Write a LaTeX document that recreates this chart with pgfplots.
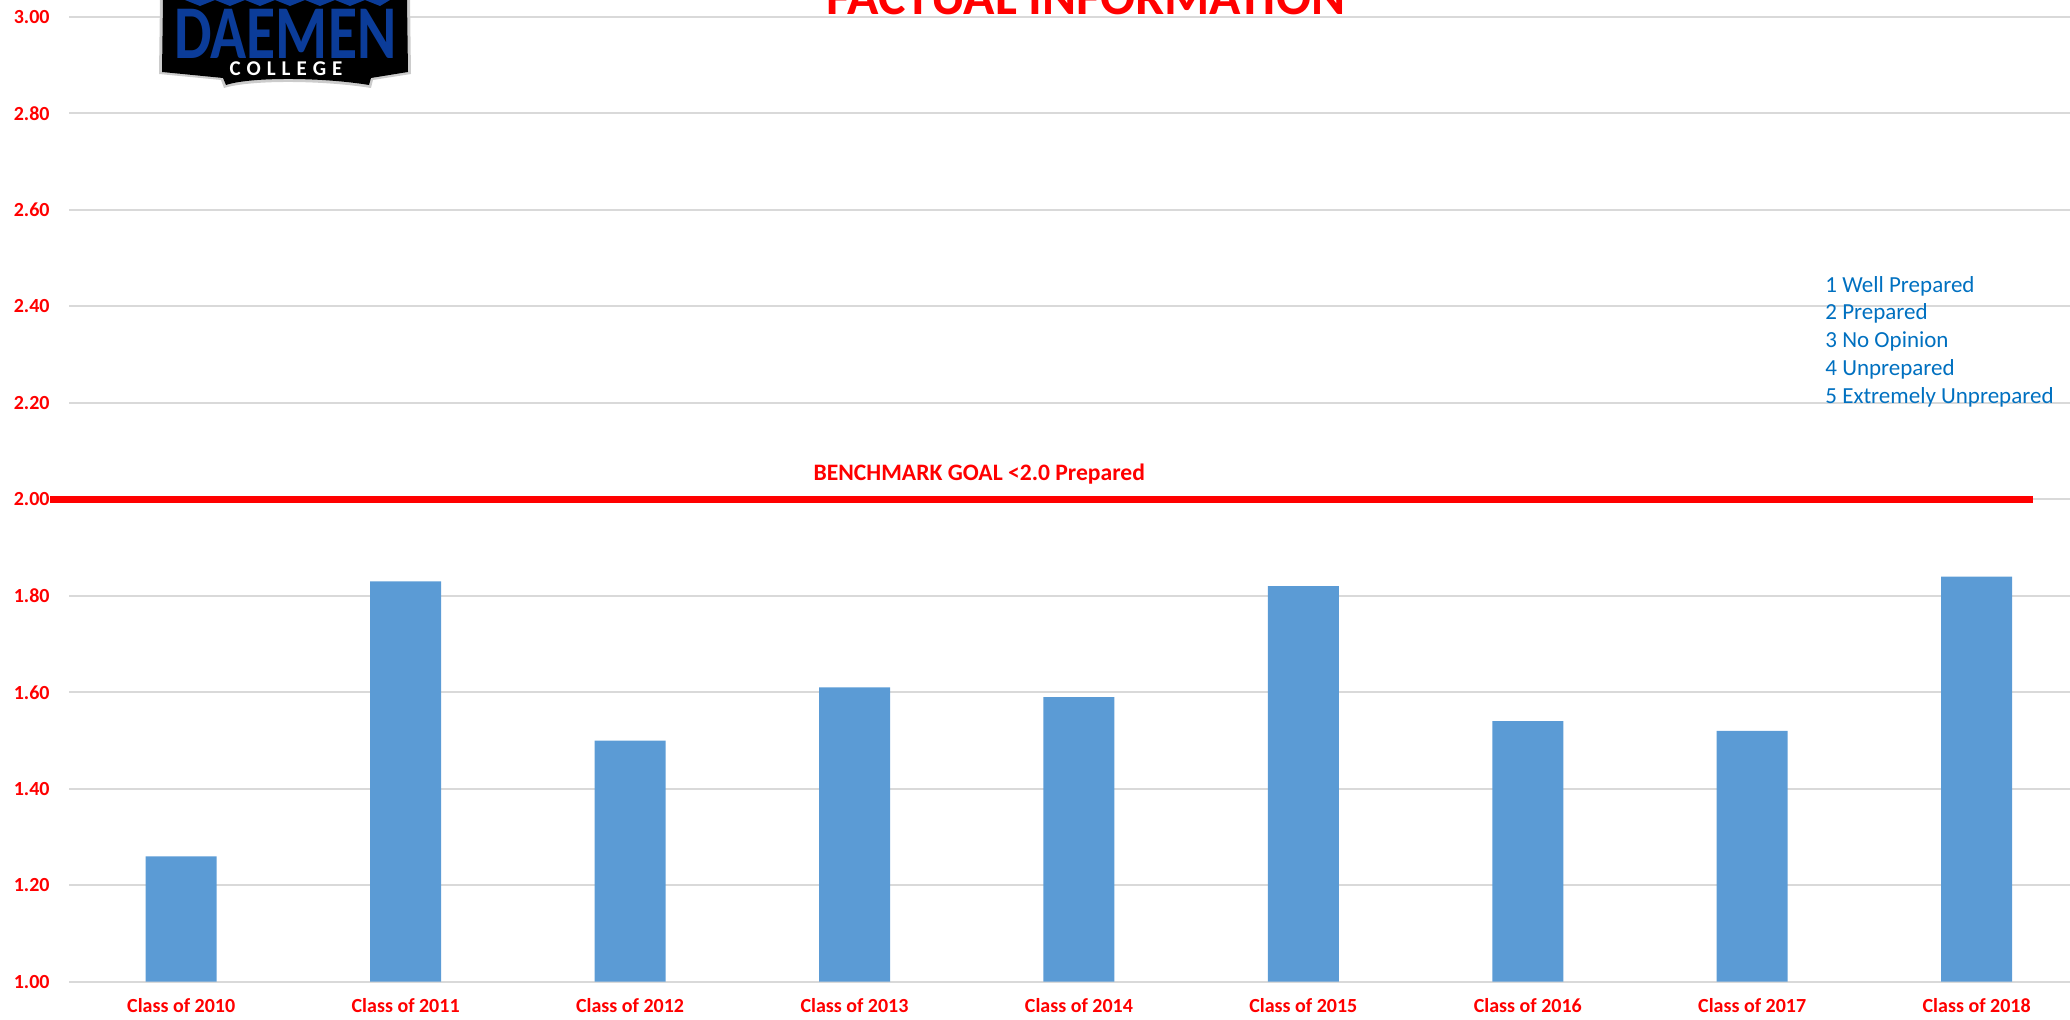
\documentclass[border=0pt]{standalone}
\usepackage{pgfplots}
\pgfplotsset{compat=1.18}
\usepackage{fontspec}
\setmainfont{Carlito}
\definecolor{xred}{HTML}{FF0000}
\definecolor{gridgray}{HTML}{D9D9D9}
\definecolor{barblue}{HTML}{5B9BD5}
\definecolor{legblue}{HTML}{0070C0}
\definecolor{logoblue}{HTML}{0B3C99}
\begin{document}
\begin{tikzpicture}
\useasboundingbox (-34.5pt,-19.15pt) rectangle (1000.5pt,490.85pt);
\clip (-34.5pt,-19.15pt) rectangle (1000.5pt,490.85pt);
\begin{axis}[at={(0,0)}, anchor=south west, scale only axis,
  width=1010pt, height=482.35pt,
  xmin=-0.5, xmax=8.5, ymin=1, ymax=3,
  axis line style={draw=none},
  ymajorgrids, grid style={gridgray, line width=1pt},
  major tick length=0pt,
  xtick={0,1,2,3,4,5,6,7,8},
  xticklabels={Class of 2010,Class of 2011,Class of 2012,Class of 2013,Class of 2014,Class of 2015,Class of 2016,Class of 2017,Class of 2018},
  ytick={1,1.2,1.4,1.6,1.8,2,2.2,2.4,2.6,2.8,3},
  yticklabels={1.00,1.20,1.40,1.60,1.80,2.00,2.20,2.40,2.60,2.80,3.00},
  /pgf/number format/assume math mode=true,
  ticklabel style={font=\fontsize{10}{12}\selectfont\bfseries, text=xred},
  yticklabel style={anchor=east, inner sep=0pt, xshift=-9.5pt},
  xticklabel style={anchor=base, inner sep=0pt, yshift=-15.5pt},
  clip=true]
\addplot[ybar, bar width=35.5pt, fill=barblue, draw=none] coordinates {(0,1.26) (1,1.83) (2,1.50) (3,1.61) (4,1.59) (5,1.82) (6,1.54) (7,1.52) (8,1.84)};
\end{axis}
\begin{axis}[at={(0,0)}, anchor=south west, scale only axis,
  width=1010pt, height=482.35pt,
  xmin=-0.5, xmax=8.5, ymin=1, ymax=3, hide axis, clip=false]
\addplot[xred, line width=3.3pt, line cap=butt] coordinates {(-0.584,2) (8.253,2)};
\node[anchor=base, text=xred, font=\fontsize{11.8}{14}\selectfont\bfseries, inner sep=0pt] at (axis cs:3.556,2.040) {BENCHMARK GOAL <2.0 Prepared};
\end{axis}
\begin{scope}[x=0.5pt, y=-0.5pt, shift={(-34.5pt,490.85pt)}]
% title
\node[anchor=base, inner sep=0pt, text=xred, font=\fontsize{25.9}{30}\selectfont\bfseries] at (1086,15) {FACTUAL INFORMATION};
% rating scale
\node[anchor=base west, inner sep=0pt, text=legblue, align=left, font=\fontsize{11.5}{13.9}\selectfont] at (1825,403.3) {1 Well Prepared\\2 Prepared\\3 No Opinion\\4 Unprepared\\5 Extremely Unprepared};
% logo
\fill[gray!40] (160,0) -- (410,0) -- (411,74) -- (373,80) -- (371,88) .. controls (320,80) and (250,80) .. (224,88) -- (221,80) -- (159,74) -- cycle;
\fill[black] (163,0) -- (407,0) -- (408,72) -- (371,78) -- (369,85) .. controls (320,77) and (250,77) .. (226,85) -- (223,78) -- (162,72) -- cycle;
\fill[logoblue] (185,0) -- (200,6) -- (215,0) -- (230,6) -- (245,0) -- (260,6) -- (275,0) -- (290,6) -- (305,0) -- (320,6) -- (335,0) -- (350,6) -- (365,0) -- (380,6) -- (390,0) -- cycle;
\node[anchor=base, inner sep=0pt, text=logoblue, xscale=0.784, font=\fontsize{38}{40}\selectfont\bfseries] at (285.5,59) {DAEMEN};
\node[anchor=base, inner sep=0pt, text=white, font=\fontsize{10.5}{12}\selectfont\bfseries] at (286,75.5) {C\hspace{3pt}O\hspace{3pt}L\hspace{3pt}L\hspace{3pt}E\hspace{3pt}G\hspace{3pt}E};
\end{scope}
\end{tikzpicture}
\end{document}
